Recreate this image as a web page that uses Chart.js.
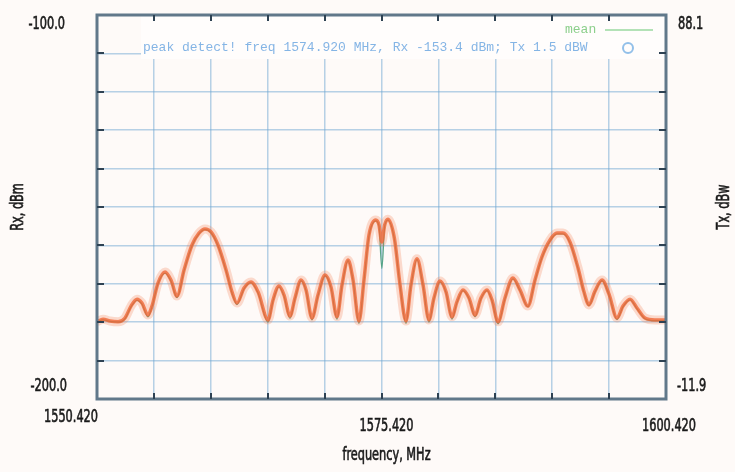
<!DOCTYPE html>
<html><head><meta charset="utf-8">
<script src="https://cdn.jsdelivr.net/npm/chart.js@4"></script>
<style>html,body{margin:0;padding:0;background:#fefaf8;overflow:hidden}</style>
</head><body>
<canvas id="c" width="735" height="472" style="display:block;width:735px;height:472px"></canvas>
<script>
// ---- data ----
const freqMHz = [
  1550.42, 1550.95, 1551.56, 1552.27, 1552.88, 1553.41, 1553.94, 1554.37, 1554.90, 1555.25,
  1555.78, 1556.40, 1556.92, 1557.45, 1558.07, 1558.77, 1559.38, 1559.91, 1560.44, 1561.05,
  1561.76, 1562.28, 1562.72, 1563.34, 1563.95, 1564.57, 1565.45, 1565.89, 1566.41, 1566.85,
  1567.38, 1567.82, 1568.35, 1568.79, 1569.31, 1569.84, 1570.46, 1570.98, 1571.51, 1571.95,
  1572.48, 1572.92, 1573.44, 1573.88, 1574.32, 1574.92, 1575.20, 1575.45, 1575.70, 1575.98,
  1576.55, 1577.05, 1577.57, 1578.01, 1578.54, 1579.07, 1579.59, 1580.03, 1580.56, 1581.09,
  1581.61, 1582.05, 1582.58, 1583.11, 1583.64, 1584.16, 1584.69, 1585.13, 1585.66, 1586.27,
  1586.97, 1587.59, 1588.29, 1588.91, 1589.52, 1590.23, 1590.84, 1591.37, 1591.98, 1592.69,
  1593.21, 1593.65, 1594.18, 1594.80, 1595.41, 1596.11, 1596.64, 1597.26, 1597.87, 1598.57,
  1599.45, 1600.42
];
const rxPeak = [
  -179.9, -179.2, -179.7, -179.9, -178.9, -175.8, -174.0, -175.0, -178.1, -175.8,
  -169.8, -166.9, -169.0, -173.2, -166.4, -159.9, -156.8, -155.7, -156.5, -159.9,
  -166.4, -172.1, -175.0, -171.1, -169.5, -172.1, -179.4, -174.2, -170.6, -172.9,
  -178.4, -173.7, -169.0, -171.6, -178.9, -172.9, -167.7, -170.8, -178.6, -170.3,
  -163.8, -169.0, -179.7, -169.0, -157.3, -153.4, -154.7, -159.1, -154.7, -153.2,
  -158.1, -170.3, -179.7, -170.3, -163.5, -170.3, -179.4, -173.7, -169.3, -172.1,
  -178.6, -174.7, -171.6, -173.7, -178.1, -173.7, -171.6, -174.2, -179.9, -173.7,
  -168.5, -171.6, -175.8, -169.0, -163.0, -158.6, -156.8, -156.8, -159.1, -165.9,
  -172.1, -175.5, -171.9, -169.0, -172.7, -178.9, -175.8, -174.0, -176.3, -178.9,
  -179.4, -179.4
];
const rxMean = [
  -180.0, -179.4, -179.8, -180.0, -179.1, -176.0, -174.3, -175.3, -178.6, -176.0,
  -170.0, -167.2, -169.3, -173.6, -166.6, -160.1, -157.0, -155.9, -156.7, -160.1,
  -166.6, -172.4, -175.4, -171.3, -169.7, -172.4, -180.0, -174.4, -170.8, -173.2,
  -179.0, -173.9, -169.2, -171.8, -179.4, -173.1, -167.9, -171.0, -179.2, -170.5,
  -164.0, -169.2, -180.3, -169.2, -157.5, -153.6, -155.0, -166.0, -155.0, -153.4,
  -158.3, -170.5, -180.3, -170.5, -163.7, -170.5, -180.0, -173.9, -169.5, -172.3,
  -179.2, -174.9, -171.8, -173.9, -178.6, -173.9, -171.8, -174.4, -180.4, -173.9,
  -168.7, -171.8, -176.0, -169.2, -163.2, -158.8, -157.0, -157.0, -159.3, -166.1,
  -172.3, -175.7, -172.1, -169.2, -172.9, -179.3, -176.0, -174.2, -176.5, -179.1,
  -179.6, -179.6
];
const xTickValues = [1550.42, 1555.42, 1560.42, 1565.42, 1570.42, 1575.42, 1580.42, 1585.42, 1590.42, 1595.42, 1600.42];
const xTickLabels = ['1550.420', '1575.420', '1600.420'];
const yTickValues = [-200, -190, -180, -170, -160, -150, -140, -130, -120, -110, -100];
const rxTickLabels = ['-100.0', '-200.0'];
const txTickLabels = ['88.1', '-11.9'];
const xTitle = 'frequency, MHz';
const rxTitle = 'Rx, dBm';
const txTitle = 'Tx, dBw';
const peakNote = 'peak detect! freq 1574.920 MHz, Rx -153.4 dBm; Tx 1.5 dBW';
const meanName = 'mean';

const LABEL_FONT = '17px "DejaVu Sans Condensed", "DejaVu Sans", sans-serif';
const SQUEEZE = 0.74;
const MONO_FONT = '13px "Liberation Mono", "DejaVu Sans Mono", monospace';

const pts = (ys) => freqMHz.map((f, i) => ({x: f, y: ys[i]}));

// condensed text: draw with a horizontal squeeze around the anchor point
function label(ctx, text, x, y, align, rot) {
  ctx.save();
  ctx.translate(x, y);
  if (rot) ctx.rotate(rot);
  ctx.scale(SQUEEZE, 1);
  ctx.textAlign = align;
  ctx.textBaseline = 'middle';
  ctx.lineWidth = 0.6;
  ctx.strokeStyle = ctx.fillStyle;
  ctx.fillText(text, 0, 0);
  ctx.strokeText(text, 0, 0);
  ctx.restore();
}

const decor = {
  id: 'decor',
  beforeDraw(chart) {
    const ctx = chart.ctx;
    ctx.save();
    ctx.fillStyle = '#fefaf8';
    ctx.fillRect(0, 0, chart.width, chart.height);
    ctx.restore();
  },
  beforeDatasetsDraw(chart) {
    const {ctx, chartArea: a} = chart;
    ctx.save();
    ctx.fillStyle = '#fffdfc';
    ctx.fillRect(141, a.top, a.right - 141, 44);
    ctx.restore();
  },
  afterDraw(chart) {
    const {ctx, chartArea: a, scales} = chart;
    const x = scales.x, y = scales.y;
    ctx.save();
    // frame
    ctx.strokeStyle = '#61788a';
    ctx.lineWidth = 3;
    ctx.strokeRect(a.left, a.top, a.right - a.left, a.bottom - a.top);
    // inward tick marks
    ctx.strokeStyle = '#2e4253';
    ctx.lineWidth = 2;
    ctx.beginPath();
    xTickValues.slice(1, -1).forEach(v => {
      const px = Math.round(x.getPixelForValue(v));
      ctx.moveTo(px, a.top); ctx.lineTo(px, a.top + 6);
      ctx.moveTo(px, a.bottom); ctx.lineTo(px, a.bottom - 6);
    });
    yTickValues.slice(1, -1).forEach(v => {
      const py = Math.round(y.getPixelForValue(v));
      ctx.moveTo(a.left, py); ctx.lineTo(a.left + 7, py);
      ctx.moveTo(a.right, py); ctx.lineTo(a.right - 7, py);
    });
    ctx.stroke();

    // axis labels
    ctx.fillStyle = '#1a1a1a';
    ctx.font = LABEL_FONT;
    label(ctx, rxTickLabels[0], a.left - 32, a.top + 10, 'right');
    label(ctx, rxTickLabels[1], a.left - 30, a.bottom - 12, 'right');
    label(ctx, txTickLabels[0], a.right + 12, a.top + 10, 'left');
    label(ctx, txTickLabels[1], a.right + 11, a.bottom - 12, 'left');

    label(ctx, xTickLabels[0], x.getPixelForValue(xTickValues[0]) + 1, a.bottom + 19, 'right');
    label(ctx, xTickLabels[1], x.getPixelForValue(xTickValues[5]) + 5, a.bottom + 28, 'center');
    label(ctx, xTickLabels[2], x.getPixelForValue(xTickValues[10]) - 24, a.bottom + 28, 'left');

    label(ctx, xTitle, x.getPixelForValue(xTickValues[5]) + 5, a.bottom + 57, 'center');
    label(ctx, rxTitle, 19, (a.top + a.bottom) / 2, 'center', -Math.PI / 2);
    label(ctx, txTitle, 725, (a.top + a.bottom) / 2, 'center', -Math.PI / 2);

    // in-plot key
    ctx.font = MONO_FONT;
    ctx.textAlign = 'left';
    ctx.textBaseline = 'middle';
    ctx.fillStyle = 'rgba(80,150,220,0.7)';
    ctx.fillText(peakNote, 143, a.top + 33);
    ctx.strokeStyle = 'rgba(100,165,225,0.7)';
    ctx.lineWidth = 2;
    ctx.beginPath();
    ctx.arc(628, a.top + 33, 5, 0, Math.PI * 2);
    ctx.stroke();

    ctx.fillStyle = 'rgba(110,195,110,0.8)';
    ctx.fillText(meanName, 565, a.top + 15);
    ctx.strokeStyle = 'rgba(120,205,130,0.75)';
    ctx.lineWidth = 1.5;
    ctx.beginPath();
    ctx.moveTo(605, a.top + 15); ctx.lineTo(653, a.top + 15);
    ctx.stroke();
    ctx.restore();
  }
};

const gridStyle = {color: 'rgba(110,165,210,0.5)', lineWidth: 1.5, drawTicks: false};

new Chart(document.getElementById('c'), {
  type: 'line',
  data: {
    datasets: [
      {label: 'peak glow', data: pts(rxPeak), borderColor: 'rgba(245,120,70,0.25)', borderWidth: 9,
       pointRadius: 0, cubicInterpolationMode: 'monotone', fill: false},
      {label: 'peak', data: pts(rxPeak), borderColor: 'rgba(238,95,45,0.78)', borderWidth: 3.5,
       pointRadius: 0, cubicInterpolationMode: 'monotone', fill: false},
      {label: meanName, data: pts(rxMean), borderColor: 'rgba(80,160,130,0.95)', borderWidth: 1.3,
       pointRadius: 0, cubicInterpolationMode: 'monotone', fill: false}
    ]
  },
  options: {
    responsive: false,
    animation: false,
    devicePixelRatio: 1,
    layout: {padding: {left: 97, right: 69, top: 15, bottom: 73}},
    plugins: {legend: {display: false}, tooltip: {enabled: false}},
    scales: {
      x: {type: 'linear', min: xTickValues[0], max: xTickValues[xTickValues.length - 1],
          afterBuildTicks: s => { s.ticks = xTickValues.map(v => ({value: v})); },
          ticks: {display: false}, grid: gridStyle, border: {display: false}},
      y: {type: 'linear', min: yTickValues[0], max: yTickValues[yTickValues.length - 1],
          afterBuildTicks: s => { s.ticks = yTickValues.map(v => ({value: v})); },
          ticks: {display: false}, grid: gridStyle, border: {display: false}}
    }
  },
  plugins: [decor]
});
</script>
</body></html>
